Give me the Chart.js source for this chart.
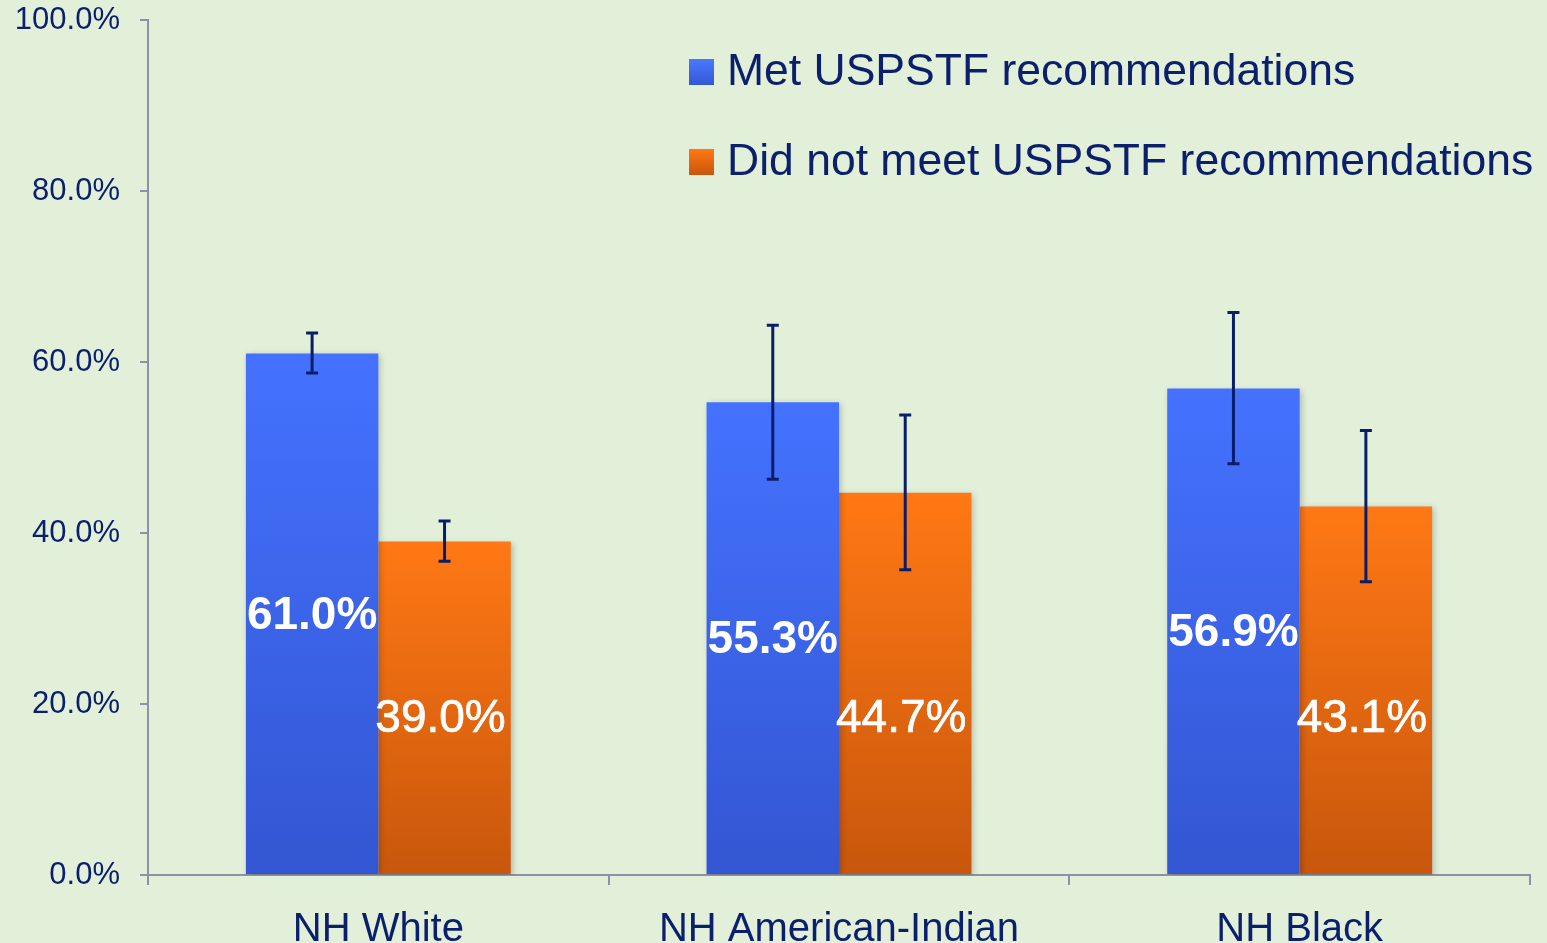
<!DOCTYPE html>
<html>
<head>
<meta charset="utf-8">
<script src="https://cdn.jsdelivr.net/npm/chart.js@4.4.1/dist/chart.umd.min.js"></script>
<style>
html,body{margin:0;padding:0;background:#E2F0DA;}
#wrap{width:1547px;height:943px;position:relative;}
</style>
</head>
<body>
<div id="wrap"><canvas id="c" width="1547" height="943"></canvas></div>
<script>
const categories = ["NH White", "NH American-Indian", "NH Black"];
const seriesNames = ["Met USPSTF recommendations", "Did not meet USPSTF recommendations"];
const metValues = [61.0, 55.3, 56.9];
const metLow = [58.7, 46.3, 48.1];
const metHigh = [63.4, 64.3, 65.8];
const notMetValues = [39.0, 44.7, 43.1];
const notMetLow = [36.7, 35.7, 34.3];
const notMetHigh = [41.4, 53.8, 52.0];
const yTicks = [0, 20, 40, 60, 80, 100];

const TEXT = '#0B1F6B';
const AXIS = '#8C91A3';
const FONT = '"Liberation Sans", Arial, sans-serif';

function makeGrad(ctx, topColor, bottomColor) {
  const chart = ctx.chart;
  if (!chart.chartArea || ctx.type !== 'data') return topColor;
  const y = chart.scales.y;
  const top = y.getPixelForValue(ctx.raw);
  const bot = y.getPixelForValue(0);
  const g = chart.ctx.createLinearGradient(0, top, 0, bot);
  g.addColorStop(0, topColor);
  g.addColorStop(1, bottomColor);
  return g;
}

const errorBars = {
  id: 'errorBars',
  afterDatasetsDraw(chart) {
    const ctx = chart.ctx;
    const y = chart.scales.y;
    const lows = [metLow, notMetLow];
    const highs = [metHigh, notMetHigh];
    ctx.save();
    ctx.strokeStyle = '#0A1D6A';
    ctx.lineWidth = 3;
    chart.data.datasets.forEach((ds, di) => {
      chart.getDatasetMeta(di).data.forEach((bar, i) => {
        const x = bar.x;
        const yl = y.getPixelForValue(lows[di][i]);
        const yh = y.getPixelForValue(highs[di][i]);
        ctx.beginPath();
        ctx.moveTo(x, yl); ctx.lineTo(x, yh);
        ctx.moveTo(x - 6, yl); ctx.lineTo(x + 6, yl);
        ctx.moveTo(x - 6, yh); ctx.lineTo(x + 6, yh);
        ctx.stroke();
      });
    });
    ctx.restore();
  }
};

const barLabels = {
  id: 'barLabels',
  afterDraw(chart) {
    const ctx = chart.ctx;
    const y = chart.scales.y;
    ctx.save();
    ctx.fillStyle = '#FFFFFF';
    ctx.strokeStyle = '#FFFFFF';
    ctx.lineWidth = 0.7;
    ctx.textAlign = 'center';
    ctx.textBaseline = 'middle';
    chart.data.datasets.forEach((ds, di) => {
      ctx.font = (di === 0 ? 'bold ' : '') + '46px ' + FONT;
      chart.getDatasetMeta(di).data.forEach((bar, i) => {
        const v = ds.data[i];
        const anchor = di === 0 ? v / 2 : 18.5;
        const tx = di === 0 ? bar.x : bar.x - 4;
        const ty = y.getPixelForValue(anchor) + 2;
        ctx.fillText(v.toFixed(1) + '%', tx, ty);
        if (di === 1) ctx.strokeText(v.toFixed(1) + '%', tx, ty);
      });
    });
    ctx.restore();
  }
};

const customLegend = {
  id: 'customLegend',
  afterDraw(chart) {
    const ctx = chart.ctx;
    const items = [
      { name: seriesNames[0], top: '#4A78FF', bot: '#3458D4', cy: 72 },
      { name: seriesNames[1], top: '#FF7814', bot: '#C8560C', cy: 162 }
    ];
    ctx.save();
    items.forEach(it => {
      const g = ctx.createLinearGradient(0, it.cy - 13, 0, it.cy + 13);
      g.addColorStop(0, it.top); g.addColorStop(1, it.bot);
      ctx.fillStyle = g;
      ctx.fillRect(689, it.cy - 13, 25, 26);
      ctx.fillStyle = TEXT;
      ctx.font = '44.5px ' + FONT;
      ctx.textBaseline = 'middle';
      ctx.textAlign = 'left';
      ctx.fillText(it.name, 727, it.cy + 1);
    });
    ctx.restore();
  }
};

const shadow = {
  id: 'shadow',
  beforeDatasetDraw(chart) {
    const ctx = chart.ctx;
    ctx.save();
    ctx.shadowColor = 'rgba(0,0,0,0.22)';
    ctx.shadowBlur = 6;
    ctx.shadowOffsetX = 2;
    ctx.shadowOffsetY = 2;
  },
  afterDatasetDraw(chart) {
    chart.ctx.restore();
  }
};

new Chart(document.getElementById('c'), {
  type: 'bar',
  data: {
    labels: categories,
    datasets: [
      {
        label: seriesNames[0],
        data: metValues,
        backgroundColor: ctx => makeGrad(ctx, '#4472FF', '#3356D2'),
        borderWidth: 0,
        categoryPercentage: 0.575,
        barPercentage: 1.0
      },
      {
        label: seriesNames[1],
        data: notMetValues,
        backgroundColor: ctx => makeGrad(ctx, '#FF7814', '#C8570C'),
        borderWidth: 0,
        categoryPercentage: 0.575,
        barPercentage: 1.0
      }
    ]
  },
  options: {
    responsive: false,
    animation: false,
    devicePixelRatio: 1,
    layout: { padding: { top: 20, right: 17, left: 0, bottom: 0 } },
    plugins: {
      legend: { display: false },
      tooltip: { enabled: false }
    },
    scales: {
      x: {
        grid: { display: true, drawOnChartArea: false, drawTicks: true, tickLength: 10, color: AXIS, lineWidth: 2, offset: true },
        border: { display: true, color: AXIS, width: 2 },
        ticks: { color: TEXT, font: { family: FONT, size: 40 }, padding: 21, maxRotation: 0 },
        afterFit: s => { s.height = 68; s.paddingLeft = 0; s.paddingRight = 0; }
      },
      y: {
        min: 0, max: 100,
        afterBuildTicks: s => { s.ticks = yTicks.map(v => ({ value: v })); },
        grid: { display: true, drawOnChartArea: false, drawTicks: true, tickLength: 8, color: AXIS, lineWidth: 2 },
        border: { display: true, color: AXIS, width: 2 },
        ticks: { color: TEXT, font: { family: FONT, size: 31 }, padding: 20, callback: v => v.toFixed(1) + '%' },
        afterFit: s => { s.width = 148; s.paddingTop = 0; s.paddingBottom = 0; }
      }
    }
  },
  plugins: [shadow, errorBars, barLabels, customLegend]
});
</script>
</body>
</html>
